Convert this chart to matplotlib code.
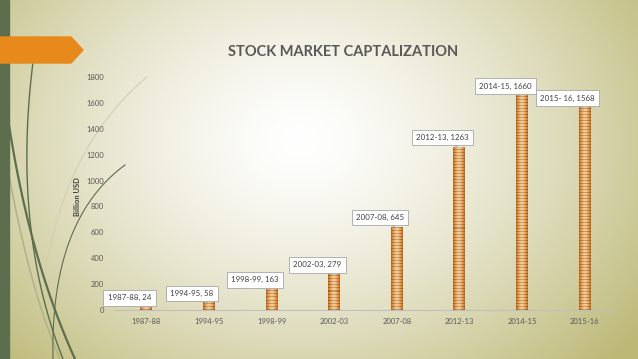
import numpy as np
import matplotlib
matplotlib.use("Agg")
import matplotlib.pyplot as plt
from matplotlib.patches import Polygon, Rectangle
from matplotlib.lines import Line2D

# chart data
years = ["1987-88", "1994-95", "1998-99", "2002-03", "2007-08", "2012-13", "2014-15", "2015-16"]
cap = [24, 58, 163, 279, 645, 1263, 1660, 1568]
label_names = ["1987-88", "1994-95", "1998-99", "2002-03", "2007-08", "2012-13", "2014-15", "2015- 16"]
yticks = [0, 200, 400, 600, 800, 1000, 1200, 1400, 1600, 1800]

plt.rcParams['font.family'] = ['Lato', 'DejaVu Sans']

W, H = 638, 359
fig = plt.figure(figsize=(W / 100, H / 100), dpi=100)

# background: radial gradient white -> khaki
bg = fig.add_axes([0, 0, 1, 1])
bg.set_axis_off()
xx, yy = np.meshgrid(np.arange(W), np.arange(H))
r = np.sqrt(((xx - 300) / 340.0) ** 2 + ((yy - 140) / 260.0) ** 2)
t = np.clip(r, 0, 1.25) / 1.25
t = t ** 1.4
khaki = np.array([188, 184, 118]) / 255.0
img = (1 - t[..., None]) * np.ones(3) + t[..., None] * khaki
bg.imshow(img, extent=(0, W, H, 0), aspect='auto', zorder=0)
bg.set_xlim(0, W)
bg.set_ylim(H, 0)

# left strip and orange arrow
bg.add_patch(Rectangle((0, 0), 9, H, color='#5d6e4f', zorder=2))
bg.add_patch(Polygon([(0, 37), (71, 37), (83, 50), (71, 63), (0, 63)], closed=True,
                     color='#e8891c', zorder=3))


# decorative curves (quadratic bezier)
def curve(p0, p1, p2, **kw):
    s = np.linspace(0, 1, 80)[:, None]
    pts = (1 - s) ** 2 * np.array(p0) + 2 * (1 - s) * s * np.array(p1) + s ** 2 * np.array(p2)
    bg.add_line(Line2D(pts[:, 0], pts[:, 1], zorder=1, **kw))


curve((9, 175), (30, 290), (60, 359), color='#b5b28a', lw=1.2)
curve((43, 290), (60, 150), (147, 77), color='#d2cfb2', lw=0.8)
curve((33, 62), (12, 230), (63, 359), color='#5d6e4f', lw=1.0)
curve((9, 125), (30, 260), (75, 359), color='#5d6e4f', lw=1.6)
curve((53, 359), (50, 220), (125, 165), color='#5d6e4f', lw=0.8)

# chart axes
ax = fig.add_axes([115 / W, 1 - 310 / H, (616 - 115) / W, (310 - 77) / H])
ax.patch.set_alpha(0)
x = np.arange(len(years))
bw = 0.19
bars = ax.bar(x, cap, width=bw, color='#e8913a', zorder=2)

# striped gradient fill for each bar
px = 1800 / 233.0
for b, v in zip(bars, cap):
    n = max(3, int(round(v / px)))
    cols = np.linspace(-1, 1, 12)
    shade = 1 - np.abs(cols) ** 1.5
    rows = np.array([0.78 if i % 3 == 0 else 1.0 for i in range(n)])
    dark = np.array([205, 115, 35]) / 255.0
    light = np.array([250, 205, 145]) / 255.0
    base = dark + (light - dark) * shade[None, :, None]
    tex = base * rows[:, None, None]
    tex = np.clip(tex, 0, 1)
    bx = b.get_x()
    im = ax.imshow(tex, extent=(bx, bx + bw, 0, v), origin='lower', aspect='auto',
                   interpolation='nearest', zorder=3)
    im.set_clip_path(b)

ax.set_xlim(-0.5, len(years) - 0.5)
ax.set_ylim(0, 1800)
ax.set_yticks(yticks)
ax.set_xticks(x)
ax.set_xticklabels(years)
ax.tick_params(axis='both', length=0, labelsize=5.5, labelcolor='#595959')
ax.tick_params(axis='y', pad=8)
ax.tick_params(axis='x', pad=6)
for sp in ['top', 'right', 'left']:
    ax.spines[sp].set_visible(False)
ax.spines['bottom'].set_color('#bfbfbf')
ax.spines['bottom'].set_linewidth(0.8)

# callout labels
for xi, v, nm in zip(x, cap, label_names):
    ax.annotate(f"{nm}, {v}", xy=(xi - 0.03, v), xytext=(-15, 9), textcoords='offset pixels',
                ha='center', va='center', fontsize=5.7, color='#404040', zorder=5,
                bbox=dict(boxstyle='square,pad=0.55', fc='white', ec='#a6a6a6', lw=0.6),
                arrowprops=dict(arrowstyle='wedge,tail_width=0.5', fc='white', ec='#a6a6a6',
                                lw=0.6, shrinkA=0, shrinkB=0))

fig.text(343 / W, 1 - 52 / H, "STOCK MARKET CAPTALIZATION", ha='center', va='center',
         fontsize=10.5, fontweight='bold', color='#595959')
fig.text(77 / W, 1 - 197 / H, "Billion USD", rotation=90, ha='center', va='center',
         fontsize=5.5, fontweight='bold', color='#404040')

fig.savefig("out.png", dpi=100)
